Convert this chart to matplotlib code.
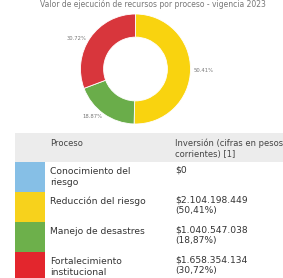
import matplotlib
matplotlib.use('agg')
import matplotlib.pyplot as plt
from matplotlib.patches import Rectangle

# data
title = 'Valor de ejecución de recursos por proceso - vigencia 2023'
procesos = ['Conocimiento del\nriesgo', 'Reducción del riesgo',
            'Manejo de desastres', 'Fortalecimiento\ninstitucional']
valores = ['$0', '$2.104.198.449\n(50,41%)', '$1.040.547.038\n(18,87%)',
           '$1.658.354.134\n(30,72%)']
porcentajes = [0.0, 50.41, 18.87, 30.72]
colores = ['#86bfe6', '#f7d21c', '#6db04b', '#e3262d']
donut_colores = ['#86bfe6', '#f9d30f', '#6aad4a', '#d8363c']
header = ['Proceso', 'Inversión (cifras en pesos\ncorrientes) [1]']

W, H = 283, 278
fig = plt.figure(figsize=(W / 100, H / 100), dpi=100)

# donut
cx, cy, r = 135.5, 69, 55
pax = fig.add_axes([(cx - r) / W, (H - cy - r) / H, 2 * r / W, 2 * r / H])
vals = porcentajes[1:]
wedges, _ = pax.pie(vals, colors=donut_colores[1:], startangle=90, counterclock=False,
                    radius=1, wedgeprops=dict(width=0.42, edgecolor='white', linewidth=0.6))
pax.set_xlim(-1, 1)
pax.set_ylim(-1, 1)
pax.set_aspect('auto')
pax.axis('off')

lbl_pos = {0: (204, 71), 1: (92, 117), 2: (77, 38)}
for i, v in enumerate(vals):
    x, y = lbl_pos[i]
    fig.text(x / W, 1 - y / H, f'{v:.2f}%', fontsize=3.8, color='#777777',
             ha='center', va='center')

fig.text(153 / W, 1 - 4.5 / H, title, fontsize=5.5, color='#777777', ha='center', va='center')

# table
tax = fig.add_axes([0, 0, 1, 1])
tax.set_xlim(0, W)
tax.set_ylim(H, 0)
tax.axis('off')

head_top, head_h, row_h = 133, 29, 30
tax.add_patch(Rectangle((15, head_top), W - 15, head_h, color='#ececec', lw=0))
tax.text(50, head_top + 10, header[0], fontsize=6.0, color='#444444', va='center')
tax.text(175, head_top + 15.5, header[1], fontsize=6.0, color='#444444', va='center',
         linespacing=1.3)

for i, (p, v, c) in enumerate(zip(procesos, valores, colores)):
    top = head_top + head_h + i * row_h
    tax.add_patch(Rectangle((15, top), 30, row_h, color=c, lw=0))
    tax.text(50, top + 5, p, fontsize=6.6, color='#333333', va='top', linespacing=1.25)
    tax.text(175, top + 4, v, fontsize=6.6, color='#333333', va='top', linespacing=1.1)

fig.savefig('out.png', dpi=100)
